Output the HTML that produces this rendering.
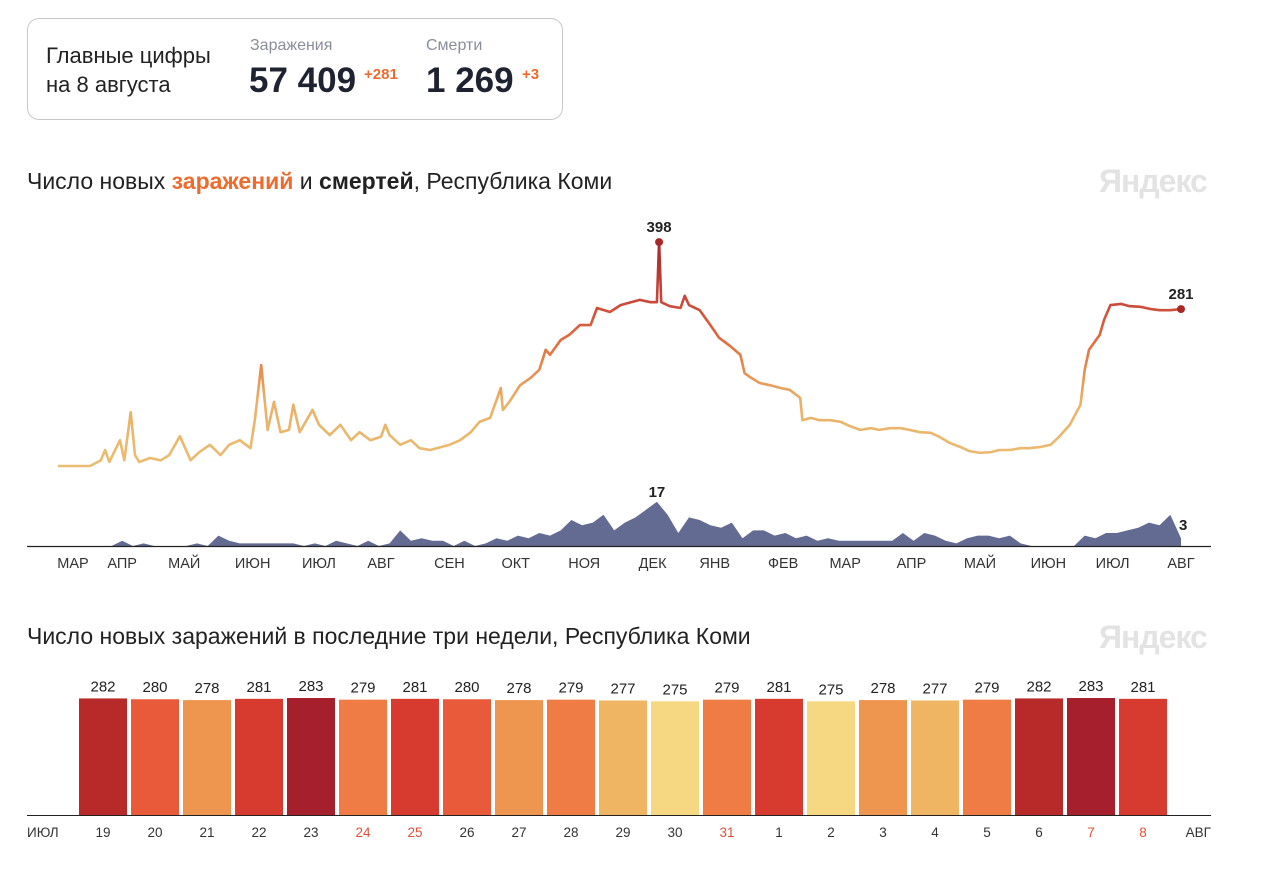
<!DOCTYPE html>
<html><head><meta charset="utf-8">
<style>
body{margin:0;width:1280px;height:871px;background:#fff;font-family:"Liberation Sans","DejaVu Sans",sans-serif;position:relative;overflow:hidden;color:#222}
.abs{position:absolute;white-space:nowrap}
</style></head>
<body>
<div class="abs" style="left:27px;top:18px;width:534px;height:100px;border:1px solid #c8c8cc;border-radius:12px"></div>
<div class="abs" style="left:46px;top:41px;font-size:22px;line-height:29px;color:#222">Главные цифры<br>на 8 августа</div>
<div class="abs" style="left:250px;top:37px;font-size:16px;color:#8a8e9a">Заражения</div>
<div class="abs" style="left:249px;top:61px;font-size:35px;font-weight:bold;color:#1f2230">57 409</div>
<div class="abs" style="left:364px;top:66px;font-size:15px;font-weight:bold;color:#ee6b2e">+281</div>
<div class="abs" style="left:426px;top:37px;font-size:16px;color:#8a8e9a">Смерти</div>
<div class="abs" style="left:426px;top:61px;font-size:35px;font-weight:bold;color:#1f2230">1 269</div>
<div class="abs" style="left:522px;top:66px;font-size:15px;font-weight:bold;color:#ee6b2e">+3</div>

<div class="abs" style="left:27px;top:168px;font-size:23px;color:#222">Число новых <b style="color:#ee6b2e">заражений</b> и <b>смертей</b>, Республика Коми</div>
<div class="abs" style="left:1099px;top:163px;font-size:32px;font-weight:bold;color:#e3e3e3;letter-spacing:-1px">Яндекс</div>
<div class="abs" style="left:27px;top:623px;font-size:23px;color:#222">Число новых заражений в последние три недели, Республика Коми</div>
<div class="abs" style="left:1099px;top:619px;font-size:32px;font-weight:bold;color:#e3e3e3;letter-spacing:-1px">Яндекс</div>

<svg id="chart" width="1280" height="871" style="position:absolute;left:0;top:0">
<defs>
<linearGradient id="lg" gradientUnits="userSpaceOnUse" x1="0" y1="470" x2="0" y2="242">
<stop offset="0" stop-color="#ebbd72"/><stop offset="0.3" stop-color="#eab068"/><stop offset="0.55" stop-color="#e2703f"/><stop offset="0.75" stop-color="#c8463a"/><stop offset="1" stop-color="#a8282a"/>
</linearGradient>
</defs>
</svg>
<script>
const caseDays=[0,15,20,22,24,29,31,34,36,38,43,48,52,57,62,66,71,76,80,85,90,92,95,98,101,104,108,110,113,119,122,127,132,137,141,146,151,153,155,160,165,169,174,179,183,188,193,197,202,207,208,211,216,221,225,228,230,235,239,244,249,252,258,263,267,272,277,280,281,282,286,291,293,295,300,305,309,314,319,321,324,328,333,338,342,347,348,352,356,361,366,370,375,380,384,389,394,398,403,408,412,417,422,426,431,436,440,445,450,454,459,464,468,473,478,480,482,487,489,492,497,501,506,511,515,520,525];
const caseVals=[7,7,17,35,14,52,17,101,26,14,21,17,26,59,17,31,44,26,44,52,38,87,183,70,119,66,70,114,66,105,79,61,79,52,66,52,58,79,61,44,52,38,35,40,44,52,66,84,91,143,105,119,148,161,175,210,201,227,236,253,253,283,276,288,292,297,293,293,398,293,286,283,304,288,279,253,231,217,201,169,161,152,148,143,140,126,87,91,87,87,84,77,70,73,70,73,73,70,66,65,58,47,40,33,30,31,35,35,38,38,40,44,58,79,114,175,210,236,262,288,290,286,285,281,279,279,281];
const deathVals=[0,0,0,0,0,0, 2,0,1,0,0,0, 0,1,0,4,2,1, 1,1,1,1,1,0, 1,0,2,1,0,2, 0,1,6,2,3,2, 2,0,2,0,1,3, 2,4,3,5,4,6, 10,8,9,12,6,9, 11,14,17,12,5,11, 10,8,7,9,3,6, 6,4,5,3,4,2, 3,2,2,2,2,2, 2,5,2,5,4,2, 1,3,4,4,3,4, 1,0,0,0,0,0, 4,3,5,5,6,7, 9,8,12,3];
const monthLabels=["МАР","АПР","МАЙ","ИЮН","ИЮЛ","АВГ","СЕН","ОКТ","НОЯ","ДЕК","ЯНВ","ФЕВ","МАР","АПР","МАЙ","ИЮН","ИЮЛ","АВГ"];
const monthDays=[7,30,59,91,122,151,183,214,246,278,307,339,368,399,431,463,493,525];
const barDays=["19","20","21","22","23","24","25","26","27","28","29","30","31","1","2","3","4","5","6","7","8"];
const barVals=[282,280,278,281,283,279,281,280,278,279,277,275,279,281,275,278,277,279,282,283,281];
const weekend=[false,false,false,false,false,true,true,false,false,false,false,false,true,false,false,false,false,false,false,true,true];

const NS="http://www.w3.org/2000/svg";
const svg=document.getElementById('chart');
function mk(t,a,p){const e=document.createElementNS(NS,t);for(const k in a)e.setAttribute(k,a[k]);(p||svg).appendChild(e);return e;}
const xD=d=>58+d*(1123/525);
const yC=v=>470-v*0.5726;
const yDe=v=>546-v*2.6;
let d=caseDays.map((dd,i)=>(i?'L':'M')+xD(dd).toFixed(1)+','+yC(caseVals[i]).toFixed(1)).join('');
const line=mk('path',{d:d,fill:'none',stroke:'url(#lg)','stroke-width':2.6,'stroke-linejoin':'round'});


let a='M'+xD(0)+','+yDe(0);
deathVals.forEach((v,i)=>{a+='L'+xD(i*5).toFixed(1)+','+yDe(v).toFixed(1);});
a+='L'+xD((deathVals.length-1)*5)+','+yDe(0)+'Z';
const area=mk('path',{d:a,fill:'#646b92'});


const ax=mk('line',{x1:27,x2:1211,y1:546.5,y2:546.5,stroke:'#222','stroke-width':1.2});


monthLabels.forEach((m,i)=>{const t=mk('text',{x:xD(monthDays[i]),y:568,'text-anchor':'middle','font-size':14.5,fill:'#333'});t.textContent=m;

});
let mi=caseVals.indexOf(Math.max(...caseVals));
const dot1=mk('circle',{cx:xD(caseDays[mi]),cy:yC(caseVals[mi]),r:4,fill:'#a8282a'});


let t1=mk('text',{x:xD(caseDays[mi]),y:yC(caseVals[mi])-10,'text-anchor':'middle','font-size':15,'font-weight':'bold',fill:'#222'});t1.textContent=caseVals[mi];


let li=caseVals.length-1;
const dot2=mk('circle',{cx:xD(caseDays[li]),cy:yC(caseVals[li]),r:4,fill:'#a8282a'});


let t2=mk('text',{x:xD(caseDays[li]),y:yC(caseVals[li])-10,'text-anchor':'middle','font-size':15,'font-weight':'bold',fill:'#222'});t2.textContent=caseVals[li];


let di=deathVals.indexOf(Math.max(...deathVals));
let t3=mk('text',{x:xD(di*5),y:yDe(deathVals[di])-5,'text-anchor':'middle','font-size':15,'font-weight':'bold',fill:'#222'});t3.textContent=deathVals[di];


let dl=deathVals.length-1;
let t4=mk('text',{x:xD(dl*5)-2,y:yDe(deathVals[dl])-8,'font-size':15,'font-weight':'bold',fill:'#222'});t4.textContent=deathVals[dl];


function col(v){if(v>=283)return'#a51f2d';if(v>=282)return'#b82a2a';if(v>=281)return'#d73a2e';if(v>=280)return'#e85a3a';if(v>=279)return'#ef7b45';if(v>=278)return'#ee9650';if(v>=277)return'#f0b562';return'#f7d882';}
const bx=i=>79+i*52, by=v=>815-v*0.4134;
barVals.forEach((v,i)=>{
 const r=mk('rect',{x:bx(i),y:by(v),width:48,height:815-by(v),fill:col(v)});
 
 
 const t=mk('text',{x:bx(i)+24,y:by(v)-7,'text-anchor':'middle','font-size':15,fill:'#222'});t.textContent=v;
 
 
 const l=mk('text',{x:bx(i)+24,y:837,'text-anchor':'middle','font-size':13.5,fill:weekend[i]?'#e0503a':'#333'});l.textContent=barDays[i];
 
 
});
const bax=mk('line',{x1:27,x2:1211,y1:815.5,y2:815.5,stroke:'#222','stroke-width':1});


const jl=mk('text',{x:27,y:837,'font-size':13.5,fill:'#333'});jl.textContent='ИЮЛ';


const al=mk('text',{x:1211,y:837,'font-size':13.5,fill:'#333','text-anchor':'end'});al.textContent='АВГ';


</script>
</body></html>
